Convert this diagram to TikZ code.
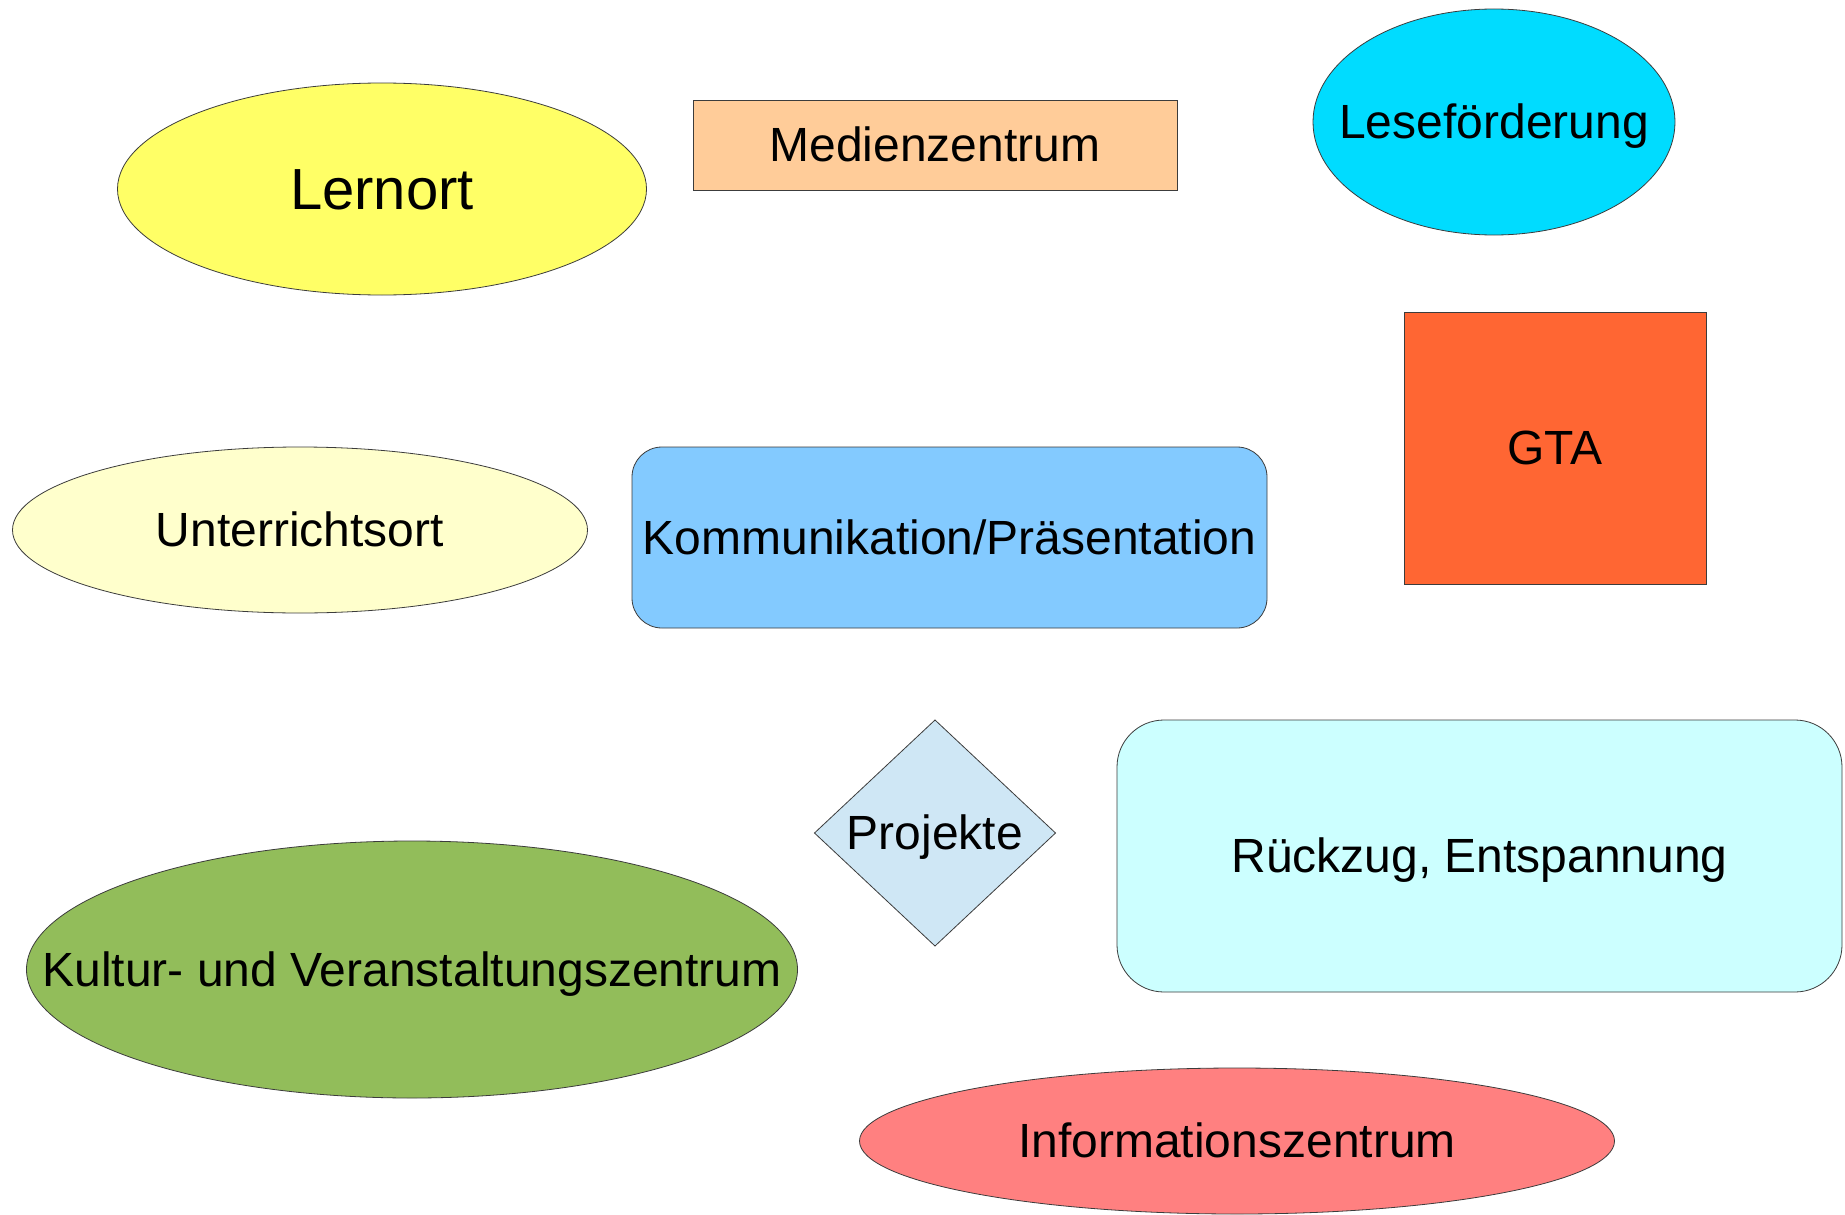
\documentclass[tikz,border=0pt]{standalone}
\usepackage{fontspec}
\setmainfont{Liberation Sans}
\usetikzlibrary{shapes.geometric}
\definecolor{cLern}{HTML}{FFFF66}
\definecolor{cMed}{HTML}{FFCC99}
\definecolor{cLese}{HTML}{00DCFF}
\definecolor{cGTA}{HTML}{FF6633}
\definecolor{cUnt}{HTML}{FFFFCC}
\definecolor{cKom}{HTML}{83CAFF}
\definecolor{cProj}{HTML}{CFE7F5}
\definecolor{cRue}{HTML}{CCFFFF}
\definecolor{cKul}{HTML}{92BD5A}
\definecolor{cInf}{HTML}{FF8080}
\definecolor{cEdge}{HTML}{3C3C3C}
\begin{document}
\begin{tikzpicture}[x=1pt,y=-1pt,
  shp/.style={draw=cEdge,line width=0.8pt,inner sep=0pt,outer sep=0pt},
  ell/.style={shp,ellipse},
  box/.style={shp,rectangle},
  txt/.style={inner sep=0pt,font=\fontsize{48}{56}\selectfont,text height=43.4pt,text depth=10.2pt},
  bigtxt/.style={inner sep=0pt,font=\fontsize{58}{66}\selectfont,text height=52.5pt,text depth=12.3pt}]
\useasboundingbox (0,0) rectangle (1845,1215);
\fill[white] (0,0) rectangle (1845,1215);
\node[ell,fill=cLern,minimum width=529pt,minimum height=212pt] (lern) at (382,189) {};
\node[bigtxt] (lernt) at (lern.center) {Lernort};
\node[box,fill=cMed,minimum width=484pt,minimum height=90pt] (med) at (935,145) {};
\node[txt] (medt) at (med.center) {Medienzentrum};
\node[ell,fill=cLese,minimum width=362pt,minimum height=226pt] (lese) at (1494,122) {};
\node[txt] (leset) at (lese.center) {Leseförderung};
\node[box,fill=cGTA,minimum width=302pt,minimum height=272pt] (gta) at (1555,448) {};
\node[txt] (gtat) at (gta.center) {GTA};
\node[ell,fill=cUnt,minimum width=575pt,minimum height=166pt] (unt) at (300,530) {};
\node[txt] (untt) at (unt.center) {Unterrichtsort};
\node[box,fill=cKom,rounded corners=30pt,minimum width=635pt,minimum height=181pt] (kom) at (949.5,537.5) {};
\node[txt] (komt) at (kom.center) {Kommunikation/Präsentation};
\node[shp,diamond,fill=cProj,minimum width=241pt,minimum height=226pt] (proj) at (935,833) {};
\node[txt] (projt) at (proj.center) {Projekte};
\node[box,fill=cRue,rounded corners=47pt,minimum width=725pt,minimum height=272pt] (rue) at (1479.5,856) {};
\node[txt] (ruet) at (rue.center) {Rückzug, Entspannung};
\node[ell,fill=cKul,minimum width=771pt,minimum height=257pt] (kul) at (412,969.5) {};
\node[txt] (kult) at (kul.center) {Kultur- und Veranstaltungszentrum};
\node[ell,fill=cInf,minimum width=755pt,minimum height=146pt] (inf) at (1237,1141) {};
\node[txt] (inft) at (inf.center) {Informationszentrum};
\end{tikzpicture}
\end{document}
